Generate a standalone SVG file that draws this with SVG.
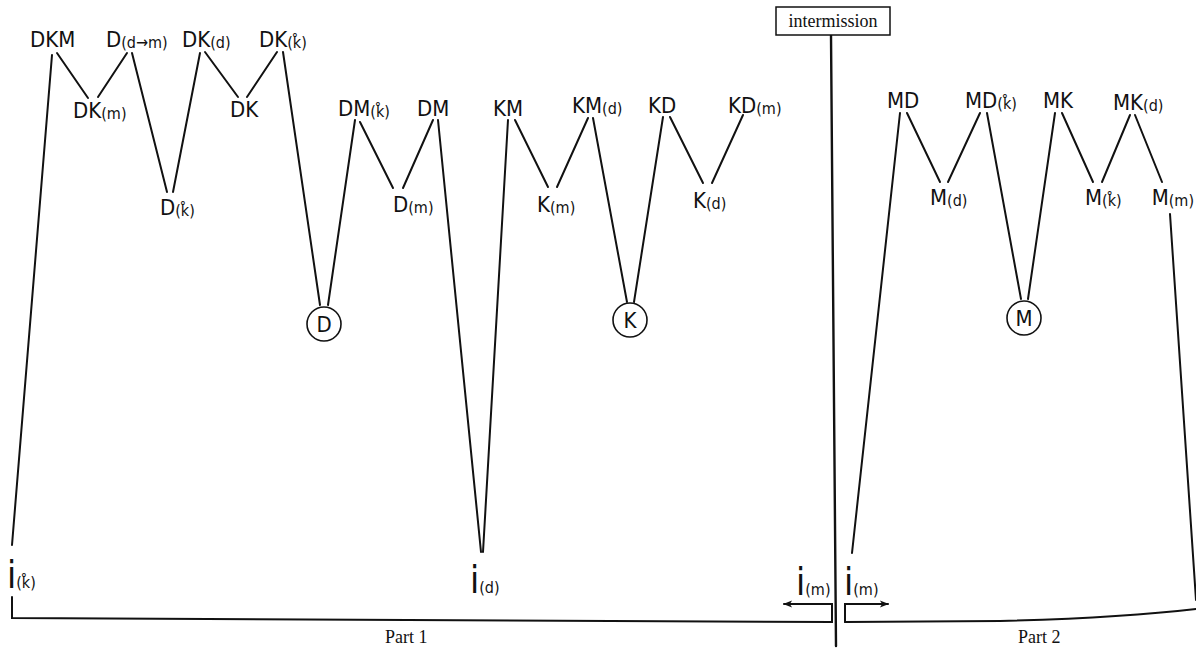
<svg xmlns="http://www.w3.org/2000/svg" width="1196" height="649" viewBox="0 0 1196 649">
  <style>
    .lbl { font-family: "DejaVu Sans Condensed", "Liberation Sans Narrow", "Liberation Sans", sans-serif; font-size: 22px; fill: #111; }
    .sub { font-size: 16px; }
    .ii { font-family: "DejaVu Sans Condensed", "Liberation Sans", sans-serif; font-size: 37px; fill: #111; }
    .ii .sub { font-size: 16px; }
    .serif { font-family: "Liberation Serif", "Times New Roman", serif; fill: #111; }
    .ln { fill: none; stroke: #111; stroke-width: 2; stroke-linecap: round; stroke-linejoin: miter; }
    .ring { fill: #fff; stroke: #111; stroke-width: 1.6; }
  </style>
  <defs>
    <marker id="arrow" viewBox="0 0 10 10" refX="9" refY="5" markerWidth="12" markerHeight="9" markerUnits="userSpaceOnUse" orient="auto">
      <path d="M0,1 L10,5 L0,9 L2.5,5 Z" fill="#111"/>
    </marker>
  </defs>
  <rect width="1196" height="649" fill="#fff"/>

  <!-- connectors -->
  <g id="connectors" class="ln">
    <!-- Part 1 -->
    <path d="M52,55 L12,545"/>
    <path d="M57,53 L88,98"/>
    <path d="M98,97 L127,53"/>
    <path d="M132,53 L167,192"/>
    <path d="M173,192 L200,53"/>
    <path d="M205,52 L238,97"/>
    <path d="M247,97 L277,52"/>
    <path d="M283,52 L320,305"/>
    <path d="M328,305 L355,120"/>
    <path d="M360,122 L393,188"/>
    <path d="M403,188 L433,120"/>
    <path d="M438,120 L481,552"/>
    <path d="M483,552 L508,120"/>
    <path d="M515,120 L548,187"/>
    <path d="M557,187 L588,118"/>
    <path d="M593,118 L627,302"/>
    <path d="M634,302 L663,117"/>
    <path d="M670,117 L703,183"/>
    <path d="M712,183 L743,115"/>
    <!-- Part 2 -->
    <path d="M852,553 L900,113"/>
    <path d="M907,113 L940,182"/>
    <path d="M948,182 L980,113"/>
    <path d="M987,113 L1021,299"/>
    <path d="M1028,299 L1055,113"/>
    <path d="M1062,113 L1093,182"/>
    <path d="M1102,182 L1130,115"/>
    <path d="M1135,115 L1162,182"/>
    <path d="M1170,214 L1196,600"/>
    <!-- intermission divider and time axes -->
    <path d="M831,35 L836,646" stroke-width="2.4"/>
    <path d="M12,597 L12,618 L832,622 L832,604 L784,604" marker-end="url(#arrow)"/>
    <path d="M845,622 L1000,621 Q1120,618 1196,609"/>
    <path d="M845,622 L845,604 L888,604" marker-end="url(#arrow)"/>
  </g>

  <!-- Part 1 nodes -->
  <g id="n-DKM"><text class="lbl" x="30" y="47">DKM</text></g>
  <g id="n-D-dm"><text class="lbl" x="106" y="47">D<tspan class="sub" dy="1">(d→m)</tspan></text></g>
  <g id="n-DK-d"><text class="lbl" x="182" y="47">DK<tspan class="sub" dy="1">(d)</tspan></text></g>
  <g id="n-DK-k"><text class="lbl" x="259" y="47">DK<tspan class="sub" dy="1">(k̊)</tspan></text></g>
  <g id="n-DK-m"><text class="lbl" x="73" y="118">DK<tspan class="sub" dy="1">(m)</tspan></text></g>
  <g id="n-DK"><text class="lbl" x="230" y="117">DK</text></g>
  <g id="n-D-k"><text class="lbl" x="160" y="215">D<tspan class="sub" dy="1">(k̊)</tspan></text></g>
  <g id="n-DM-k"><text class="lbl" x="338" y="116">DM<tspan class="sub" dy="1">(k̊)</tspan></text></g>
  <g id="n-DM"><text class="lbl" x="417" y="116">DM</text></g>
  <g id="n-D-m"><text class="lbl" x="393" y="212">D<tspan class="sub" dy="1">(m)</tspan></text></g>
  <g id="n-KM"><text class="lbl" x="493" y="116">KM</text></g>
  <g id="n-K-m"><text class="lbl" x="537" y="212">K<tspan class="sub" dy="1">(m)</tspan></text></g>
  <g id="n-KM-d"><text class="lbl" x="572" y="113">KM<tspan class="sub" dy="1">(d)</tspan></text></g>
  <g id="n-KD"><text class="lbl" x="648" y="113">KD</text></g>
  <g id="n-K-d"><text class="lbl" x="693" y="208">K<tspan class="sub" dy="1">(d)</tspan></text></g>
  <g id="n-KD-m"><text class="lbl" x="728" y="113">KD<tspan class="sub" dy="1">(m)</tspan></text></g>
  <g id="n-D"><circle class="ring" cx="324" cy="324" r="17"/><text class="lbl" x="324" y="332" text-anchor="middle">D</text></g>
  <g id="n-K"><circle class="ring" cx="630" cy="320" r="17"/><text class="lbl" x="630" y="328" text-anchor="middle">K</text></g>

  <!-- Part 2 nodes -->
  <g id="n-MD"><text class="lbl" x="887" y="108">MD</text></g>
  <g id="n-M-d"><text class="lbl" x="930" y="205">M<tspan class="sub" dy="1">(d)</tspan></text></g>
  <g id="n-MD-k"><text class="lbl" x="965" y="108">MD<tspan class="sub" dy="1">(k̊)</tspan></text></g>
  <g id="n-MK"><text class="lbl" x="1043" y="108">MK</text></g>
  <g id="n-M-k"><text class="lbl" x="1085" y="205">M<tspan class="sub" dy="1">(k̊)</tspan></text></g>
  <g id="n-MK-d"><text class="lbl" x="1113" y="110">MK<tspan class="sub" dy="1">(d)</tspan></text></g>
  <g id="n-M-m"><text class="lbl" x="1194" y="205" text-anchor="end">M<tspan class="sub" dy="1">(m)</tspan></text></g>
  <g id="n-M"><circle class="ring" cx="1024" cy="318" r="17"/><text class="lbl" x="1024" y="326" text-anchor="middle">M</text></g>

  <!-- entry points -->
  <g id="n-i-k"><text class="ii" x="7" y="588">i<tspan class="sub">(k̊)</tspan></text></g>
  <g id="n-i-d"><text class="ii" x="470" y="593">i<tspan class="sub">(d)</tspan></text></g>
  <g id="n-i-m1"><text class="ii" x="796" y="595">i<tspan class="sub">(m)</tspan></text></g>
  <g id="n-i-m2"><text class="ii" x="844" y="595">i<tspan class="sub">(m)</tspan></text></g>

  <!-- intermission -->
  <g id="n-intermission">
    <rect x="776" y="7" width="114" height="28" fill="#fff" stroke="#111" stroke-width="1.5"/>
    <text class="serif" x="833" y="27" font-size="18" text-anchor="middle">intermission</text>
  </g>

  <!-- part captions -->
  <text class="serif" x="385" y="643" font-size="18">Part 1</text>
  <text class="serif" x="1018" y="643" font-size="18">Part 2</text>
</svg>
